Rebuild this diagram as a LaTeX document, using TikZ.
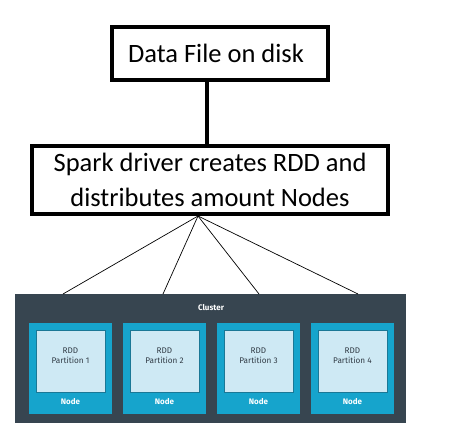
\documentclass[tikz,border=0pt]{standalone}
\usepackage{fontspec}
\setmainfont{Carlito}
\newfontfamily\uifont{Fira Sans}
\definecolor{clusterbg}{RGB}{55,69,80}
\definecolor{nodeteal}{RGB}{22,164,204}
\definecolor{partfill}{RGB}{206,233,244}
\definecolor{partedge}{RGB}{26,120,150}
\definecolor{parttext}{RGB}{50,60,70}
\tikzset{
  bigbox/.style={draw=black, line width=4pt, fill=white, inner sep=0pt, font=\fontsize{26.5}{35}\selectfont, align=center},
  clusterbox/.style={fill=clusterbg, inner sep=0pt, minimum width=391pt, minimum height=129pt},
  nodebox/.style={fill=nodeteal, inner sep=0pt, minimum width=83pt, minimum height=91pt},
  partbox/.style={fill=partfill, draw=partedge, line width=0.8pt, inner sep=0pt, minimum width=69pt, minimum height=62pt},
  smalltxt/.style={font=\uifont\fontsize{8.2}{9.5}\selectfont, inner sep=0pt, align=center},
  boldtxt/.style={font=\uifont\bfseries\fontsize{8}{9.5}\selectfont, inner sep=0pt, text=white},
  link/.style={draw=black, line width=0.7pt}
}
\begin{document}
\begin{tikzpicture}[x=1pt,y=-1pt]
\useasboundingbox[fill=white] (0,0) rectangle (449,439);
% top boxes
\node[bigbox, minimum width=216pt, minimum height=53pt] (dfile) at (220,53.5) {Data File on disk\hspace{8pt}};
\node[bigbox, minimum width=356pt, minimum height=68pt] (spark) at (210,180) {Spark driver creates RDD and\\distributes amount Nodes};
\coordinate (vx) at (207,0);
\draw[line width=4pt] (dfile.south -| vx) -- (spark.north -| vx);
% cluster
\node[clusterbox] (cluster) at (210.5,358.5) {};
\node[boldtxt] (clabel) at (211,308) {Cluster};
\foreach \i/\x in {1/70.5,2/164.5,3/258.5,4/352.5}{
  \node[nodebox] (n\i) at (\x,368.5) {};
  \node[partbox] (p\i) at (\x,361) {};
  \node[smalltxt, text=parttext] (t\i) at (\x,355.5) {RDD\\Partition \i};
  \node[boldtxt] (l\i) at (\x,402) {Node};
}
% connectors
\coordinate (hub) at (198,216);
\coordinate (c1) at (63,294);
\coordinate (c2) at (163,294);
\coordinate (c3) at (259,294);
\coordinate (c4) at (358,294);
\foreach \i in {1,2,3,4}{ \draw[link] (hub) -- (c\i); }
\end{tikzpicture}
\end{document}
